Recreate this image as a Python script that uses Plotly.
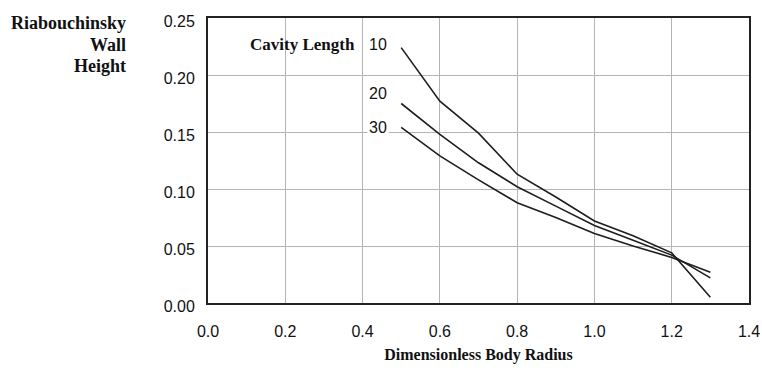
import plotly.graph_objects as go

# Dimensionless body radius sampled for each curve
radius = [0.5, 0.6, 0.7, 0.8, 0.9, 1.0, 1.1, 1.2, 1.3]

# Riabouchinsky wall height for each cavity length
cavity_lengths = ["10", "20", "30"]
height_10 = [0.224, 0.177, 0.149, 0.113, 0.093, 0.072, 0.059, 0.044, 0.005]
height_20 = [0.175, 0.148, 0.123, 0.102, 0.085, 0.068, 0.055, 0.042, 0.022]
height_30 = [0.154, 0.129, 0.108, 0.088, 0.075, 0.061, 0.050, 0.040, 0.027]

x_ticks = [0.0, 0.2, 0.4, 0.6, 0.8, 1.0, 1.2, 1.4]
y_ticks = [0.00, 0.05, 0.10, 0.15, 0.20, 0.25]

sans = "Liberation Sans, Arial, sans-serif"
serif = "Liberation Serif, Times New Roman, serif"

fig = go.Figure()
for name, ys in zip(cavity_lengths, [height_10, height_20, height_30]):
    fig.add_trace(go.Scatter(
        x=radius, y=ys, mode="lines", name=name,
        line=dict(color="#1e1e1e", width=1.6),
        showlegend=False,
    ))

# Curve labels placed just left of each curve's first point
label_shift = {"10": 3, "20": 10, "30": 0}
for name, ys in zip(cavity_lengths, [height_10, height_20, height_30]):
    fig.add_annotation(
        x=radius[0], y=ys[0], xref="x", yref="y",
        text=name, showarrow=False, xanchor="right", yanchor="middle",
        xshift=-12, yshift=label_shift[name],
        font=dict(family=sans, size=16, color="#111"),
        bgcolor="white",
    )

fig.add_annotation(
    x=radius[0], y=height_10[0], xref="x", yref="y",
    text="<b>Cavity Length</b>", showarrow=False, xanchor="right", yanchor="middle",
    xshift=-44, yshift=3,
    font=dict(family=serif, size=17, color="#111"),
)

# Y-axis title as right-aligned stacked lines
for i, word in enumerate(["Riabouchinsky", "Wall", "Height"]):
    fig.add_annotation(
        x=-0.147, y=1.0 - i * 0.076, xref="paper", yref="paper",
        text=f"<b>{word}</b>", showarrow=False, xanchor="right", yanchor="middle",
        yshift=-5,
        font=dict(family=serif, size=18, color="#111"),
    )

fig.update_layout(
    width=762, height=368,
    margin=dict(l=208, r=13, t=18, b=65),
    paper_bgcolor="white", plot_bgcolor="white",
    xaxis=dict(
        range=[0, 1.4], tickvals=x_ticks, ticktext=[f"{v:.1f}" for v in x_ticks],
        showgrid=True, gridcolor="#b4b4b4", gridwidth=1,
        showline=True, linecolor="#222", linewidth=2, mirror=True,
        ticks="outside", ticklen=13, tickcolor="rgba(0,0,0,0)", zeroline=False,
        automargin=False,
        tickfont=dict(family=sans, size=16, color="#111"),
        title=dict(text="<b>Dimensionless Body Radius</b>", standoff=10,
                   font=dict(family=serif, size=16, color="#111")),
    ),
    yaxis=dict(
        range=[0, 0.25], tickvals=y_ticks, ticktext=[f"{v:.2f}" for v in y_ticks],
        showgrid=True, gridcolor="#b4b4b4", gridwidth=1,
        showline=True, linecolor="#222", linewidth=2, mirror=True,
        ticks="outside", ticklen=8, tickcolor="rgba(0,0,0,0)", zeroline=False,
        automargin=False, ticklabelshift=3,
        tickfont=dict(family=sans, size=16, color="#111"),
    ),
)

fig.write_html("out.html")
